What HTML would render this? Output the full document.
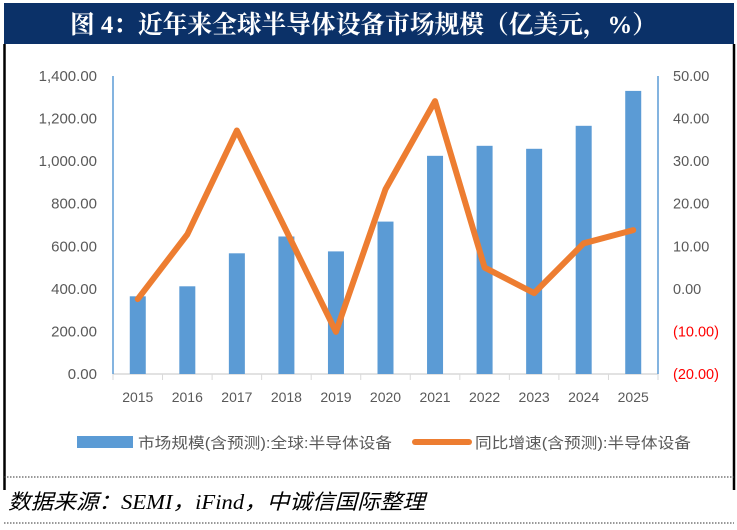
<!DOCTYPE html>
<html><head><meta charset="utf-8"><style>
body{margin:0;background:#fff;}
#wrap{position:relative;width:737px;height:530px;overflow:hidden;background:#fff;font-family:"Liberation Sans","Noto Sans CJK SC",sans-serif;}
</style></head><body>
<div id="wrap">
<svg id="chart" width="737" height="530">
<rect x="4" y="3" width="730" height="41" fill="#0b3168"/>
<text x="70" y="33" textLength="587" lengthAdjust="spacingAndGlyphs" font-family="'Liberation Serif','Noto Serif CJK SC',serif" font-size="25" font-weight="bold" fill="#fff">图 4：近年来全球半导体设备市场规模（亿美元，%）</text>
<line x1="4.5" y1="44" x2="4.5" y2="490" stroke="#000" stroke-width="2.5"/>
<line x1="734" y1="44" x2="734" y2="490" stroke="#000" stroke-width="2.5"/>
<line x1="4" y1="477" x2="734" y2="477" stroke="#333" stroke-width="1" stroke-dasharray="1.5,1.5"/>
<line x1="4" y1="523" x2="734" y2="523" stroke="#333" stroke-width="1" stroke-dasharray="1.5,1.5"/>
<text x="8" y="509" textLength="417" lengthAdjust="spacingAndGlyphs" font-family="'Liberation Serif','Noto Sans CJK SC',serif" font-style="italic" font-size="21" fill="#000">数据来源：SEMI，iFind，中诚信国际整理</text>
<g id="plot"></g>
<g>
<rect x="77" y="436" width="56" height="12" fill="#5b9bd5"/>
<text x="138" y="448" textLength="254" lengthAdjust="spacingAndGlyphs" font-size="15" fill="#595959">市场规模(含预测):全球:半导体设备</text>
<line x1="415" y1="442" x2="469" y2="442" stroke="#ed7d31" stroke-width="6" stroke-linecap="round"/>
<text x="475" y="448" textLength="216" lengthAdjust="spacingAndGlyphs" font-size="15" fill="#595959">同比增速(含预测):半导体设备</text>
</g>
</svg>
</div>
<script>
const categories=["2015","2016","2017","2018","2019","2020","2021","2022","2023","2024","2025"];
const marketSize=[365,412,567,646,576,716,1025,1072,1058,1166,1330];
const yoyGrowth=[-2.4,12.8,37.2,13.6,-10.1,23.4,44.1,5.0,-1.0,10.7,13.8];
const leftTicks=[0,200,400,600,800,1000,1200,1400];
const rightTicks=[-20,-10,0,10,20,30,40,50];
const NS="http://www.w3.org/2000/svg";
const g=document.getElementById('plot');
const X0=113,X1=658,YT=76,YB=374;
const step=(X1-X0)/categories.length;
function xC(i){return X0+step*(i+0.5);}
function yL(v){return YB-(v-0)/(1400-0)*(YB-YT);}
function yR(v){return YB-(v+20)/70*(YB-YT);}
function mk(t,a){const e=document.createElementNS(NS,t);for(const k in a)e.setAttribute(k,a[k]);g.appendChild(e);return e;}
function fmt(v){const s=Math.abs(v).toFixed(2).replace(/\B(?=(\d{3})+(?!\d))/g,",");return v<0?"("+s+")":s;}
leftTicks.forEach(v=>{const t=mk('text',{x:97,y:yL(v)+5,'text-anchor':'end','font-size':15,fill:'#595959'});t.textContent=fmt(v);

});
rightTicks.forEach(v=>{const t=mk('text',{x:673,y:yR(v)+5,'font-size':14.5,fill:v<0?'#ff0000':'#595959'});t.textContent=fmt(v);

});
const xa=mk('line',{x1:X0,y1:YB,x2:X1,y2:YB,stroke:'#d9d9d9','stroke-width':1.5});


for(let i=0;i<=categories.length;i++){const tk=mk('line',{x1:X0+step*i,y1:YB,x2:X0+step*i,y2:YB+6,stroke:'#d9d9d9'});

}
categories.forEach((c,i)=>{const t=mk('text',{x:xC(i),y:402,'text-anchor':'middle','font-size':14,fill:'#595959'});t.textContent=c;

});
marketSize.forEach((v,i)=>{const r=mk('rect',{x:xC(i)-8,y:yL(v),width:16,height:YB-yL(v),fill:'#5b9bd5'});

});
const la=mk('line',{x1:X0,y1:YT,x2:X0,y2:YB,stroke:'#5b9bd5','stroke-width':1.5});


const ra=mk('line',{x1:X1,y1:YT,x2:X1,y2:YB,stroke:'#5b9bd5','stroke-width':1.5});


const pts=yoyGrowth.map((v,i)=>xC(i)+','+yR(v)).join(' ');
const pl=mk('polyline',{points:pts,fill:'none',stroke:'#ed7d31','stroke-width':6,'stroke-linejoin':'round','stroke-linecap':'round'});


</script>
</body></html>
